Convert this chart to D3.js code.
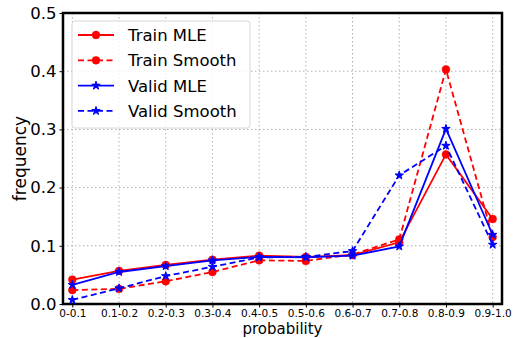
<!DOCTYPE html>
<html>
<head>
<meta charset="utf-8">
<script src="https://cdn.jsdelivr.net/npm/d3@7"></script>
<style>
  html, body { margin: 0; padding: 0; background: #fff; }
  svg { display: block; font-family: 'DejaVu Sans', sans-serif; }
  .grid line { stroke: #b0b0b0; stroke-dasharray: 1.5 2.5; stroke-width: 1; }
</style>
</head>
<body>
<svg id="chart"></svg>
<script>
const categories = ['0-0.1', '0.1-0.2', '0.2-0.3', '0.3-0.4', '0.4-0.5', '0.5-0.6', '0.6-0.7', '0.7-0.8', '0.8-0.9', '0.9-1.0'];
const trainMle = [0.042, 0.057, 0.067, 0.076, 0.083, 0.081, 0.084, 0.106, 0.257, 0.146];
const trainSmooth = [0.024, 0.026, 0.039, 0.055, 0.075, 0.074, 0.085, 0.111, 0.403, 0.115];
const validMle = [0.033, 0.055, 0.065, 0.075, 0.081, 0.080, 0.083, 0.099, 0.301, 0.119];
const validSmooth = [0.007, 0.027, 0.048, 0.064, 0.080, 0.081, 0.091, 0.221, 0.272, 0.102];
const yTicks = [0, 0.1, 0.2, 0.3, 0.4, 0.5];

const series = [
  { name: 'Train MLE', values: trainMle, color: '#ff0000', dash: null, marker: 'circle' },
  { name: 'Train Smooth', values: trainSmooth, color: '#ff0000', dash: '6 3.5', marker: 'circle' },
  { name: 'Valid MLE', values: validMle, color: '#0000ff', dash: null, marker: 'star' },
  { name: 'Valid Smooth', values: validSmooth, color: '#0000ff', dash: '6 3.5', marker: 'star' }
];

const width = 513;
const height = 338;
const plotLeft = 63, plotRight = 502, plotTop = 13, plotBottom = 304;

const svg = d3.select('#chart').attr('width', width).attr('height', height);

const x = d3.scaleLinear().domain([-0.2, categories.length - 0.8]).range([plotLeft, plotRight]);
const y = d3.scaleLinear().domain([0, 0.5]).range([plotBottom, plotTop]);

// grid
const grid = svg.append('g').attr('class', 'grid');
grid.selectAll('line.v').data(categories).join('line').attr('class', 'v')
  .attr('x1', (_, i) => x(i)).attr('x2', (_, i) => x(i)).attr('y1', plotTop).attr('y2', plotBottom);
grid.selectAll('line.h').data(yTicks).join('line').attr('class', 'h')
  .attr('x1', plotLeft).attr('x2', plotRight).attr('y1', (d) => y(d)).attr('y2', (d) => y(d));

// axes
const xAxis = svg.append('g').attr('transform', `translate(0, ${plotBottom})`)
  .call(d3.axisBottom(x).tickValues(d3.range(categories.length)).tickFormat((i) => categories[i]).tickSize(3.5).tickPadding(2));
xAxis.select('.domain').remove();
xAxis.selectAll('text').attr('font-size', 10.5).attr('font-family', 'DejaVu Sans').attr('fill', '#000');

const yAxis = svg.append('g').attr('transform', `translate(${plotLeft}, 0)`)
  .call(d3.axisLeft(y).tickValues(yTicks).tickFormat(d3.format('.1f')).tickSize(3.5).tickPadding(3));
yAxis.select('.domain').remove();
yAxis.selectAll('text').attr('font-size', 16.5).attr('font-family', 'DejaVu Sans').attr('fill', '#000');

svg.append('rect').attr('x', plotLeft).attr('y', plotTop).attr('width', plotRight - plotLeft).attr('height', plotBottom - plotTop)
  .attr('fill', 'none').attr('stroke', '#000').attr('stroke-width', 2.5);

svg.append('text').attr('x', (plotLeft + plotRight) / 2).attr('y', 334).attr('text-anchor', 'middle')
  .attr('font-size', 15).text('probability');
svg.append('text').attr('transform', `translate(26, ${(plotTop + plotBottom) / 2}) rotate(-90)`).attr('text-anchor', 'middle')
  .attr('font-size', 17).text('frequency');

const star = d3.symbol().type(d3.symbolStar).size(22);
const circle = d3.symbol().type(d3.symbolCircle).size(48);
function drawMarker(g, s) {
  g.append('path').attr('d', s.marker === 'star' ? star() : circle()).attr('fill', s.color)
    .attr('stroke', s.color).attr('stroke-width', s.marker === 'star' ? 1 : 0.5);
}

const line = d3.line().x((_, i) => x(i)).y((d) => y(d));
series.forEach((s) => {
  const g = svg.append('g');
  g.append('path').attr('d', line(s.values)).attr('fill', 'none').attr('stroke', s.color)
    .attr('stroke-width', 1.8).attr('stroke-dasharray', s.dash);
  g.selectAll('g.m').data(s.values).join('g').attr('class', 'm')
    .attr('transform', (d, i) => `translate(${x(i)}, ${y(d)})`)
    .each(function () { drawMarker(d3.select(this), s); });
});

// legend
const legend = svg.append('g').attr('transform', 'translate(72, 21)');
legend.append('rect').attr('width', 178).attr('height', 107).attr('rx', 3)
  .attr('fill', 'rgba(255,255,255,0.8)').attr('stroke', '#d8d8d8');
series.forEach((s, i) => {
  const row = legend.append('g').attr('transform', `translate(0, ${14 + i * 25.3})`);
  row.append('line').attr('x1', 6).attr('x2', 42).attr('y1', 0).attr('y2', 0)
    .attr('stroke', s.color).attr('stroke-width', 1.8).attr('stroke-dasharray', s.dash);
  row.append('g').attr('transform', 'translate(24, 0)').call((g) => drawMarker(g, s));
  row.append('text').attr('x', 56).attr('y', 0).attr('dy', '0.36em').attr('font-size', 16.5).text(s.name);
});
</script>
</body>
</html>
